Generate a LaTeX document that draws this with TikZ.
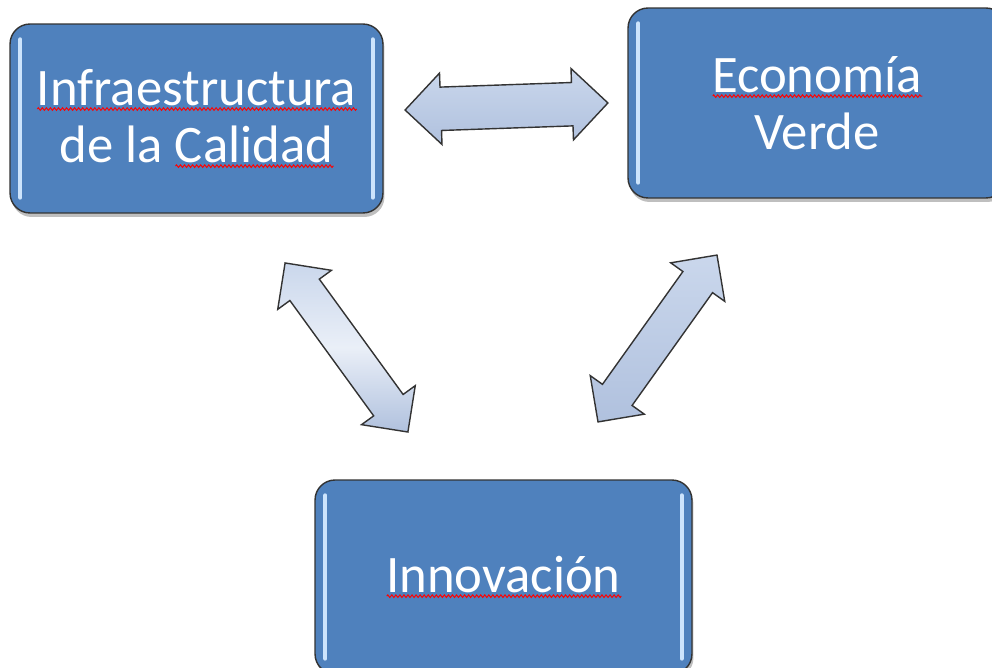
\documentclass[tikz,border=0pt]{standalone}
\usepackage{fontspec}
\setmainfont{Carlito}
\usepackage{tikz}
\usetikzlibrary{shapes.arrows, shadows, decorations.pathmorphing, positioning, calc}
\definecolor{boxblue}{RGB}{79,129,189}
\definecolor{arrowtop}{RGB}{202,215,236}
\definecolor{arrowbot}{RGB}{176,193,222}
\definecolor{glintcol}{RGB}{205,228,252}
\newcommand{\spellerr}[1]{\setbox0\hbox{#1}\rlap{\tikz[baseline=0pt, x=1pt, y=1pt, sharp corners]
    \draw[red, line width=0.55pt, decorate, decoration={zigzag, amplitude=0.75pt, segment length=2.3pt}]
    (0pt,-2.2pt) -- (\the\wd0,-2.2pt);}#1}
\tikzset{
    block/.style={
        rectangle,
        rounded corners=0.4cm,
        draw=black!80,
        thick,
        fill=boxblue,
        text=white,
        align=center,
        font=\fontsize{30}{32.5}\selectfont,
    },
    shade/.style={
        rectangle,
        rounded corners=0.4cm,
        fill=black,
        opacity=0.25,
    },
    link/.style={
        double arrow,
        double arrow head extend=0.3cm,
        inner xsep=0pt,
        inner ysep=0.35cm,
        draw=black!80,
        thick,
        top color=arrowtop,
        bottom color=arrowbot,
    },
    glint/.style={
        line width=0.08cm,
        draw=glintcol,
        line cap=round,
    },
}
\begin{document}
\begin{tikzpicture}[x=0.02cm, y=-0.02cm]
          \useasboundingbox (0,0) rectangle (992,668);
          \clip (0,0) rectangle (992,668);

          % soft shadows below the boxes
          \node [shade, minimum width=7.46cm, minimum height=3.78cm] at (198,122.5) {};
          \node [shade, minimum width=7.56cm, minimum height=3.8cm] at (818.5,107) {};
          \node [shade, minimum width=7.54cm, minimum height=3.88cm] at (505,581) {};

          \node [block, minimum width=7.46cm, minimum height=3.78cm] (IC) at (196.5,118.5)
                {\spellerr{Infraestructura}\\de la \spellerr{Calidad}};
          \node [block, minimum width=7.56cm, minimum height=3.8cm] (EV) at (817,103)
                {\spellerr{Economía}\\Verde};
          \node [block, minimum width=7.54cm, minimum height=3.88cm] (IN) at (503.5,577)
                {\spellerr{Innovación}};

          % glossy edges
          \foreach \b in {IC, EV, IN} {
              \draw [glint] ([xshift=0.22cm, yshift=-0.32cm]\b.north west) -- ([xshift=0.22cm, yshift=0.32cm]\b.south west);
              \draw [glint] ([xshift=-0.22cm, yshift=-0.32cm]\b.north east) -- ([xshift=-0.22cm, yshift=0.32cm]\b.south east);
          }

          \node [link, minimum height=4.06cm, inner ysep=0.42cm, double arrow head extend=0.28cm, rotate=2] (IC-EV) at (506.5,106.5) {};
          \node [link, minimum height=4.18cm, middle color=white!60!arrowtop, rotate=-54] (IC-IN) at (346.5,347.5) {};
          \node [link, minimum height=4.1cm, rotate=54.5] (EV-IN) at (657.5,338.5) {};
        \end{tikzpicture}
\end{document}
